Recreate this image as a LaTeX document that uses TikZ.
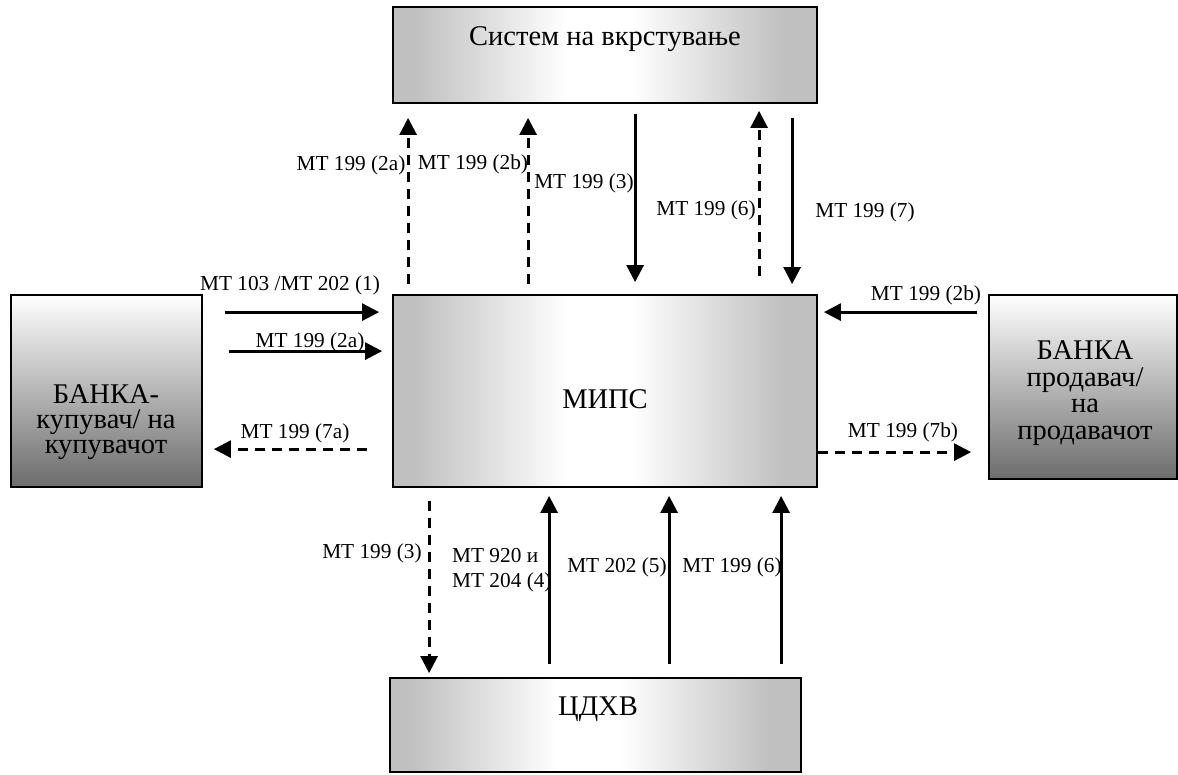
\documentclass[tikz,border=0pt]{standalone}
\usepackage{fontspec}
\setmainfont{Liberation Serif}
\usetikzlibrary{arrows.meta,calc}
\definecolor{edgegray}{RGB}{192,192,192}
\definecolor{bankdark}{RGB}{108,108,108}
\tikzset{
  box/.style={draw=black, line width=1.8pt, inner sep=0pt},
  silverbox/.style={box, path picture={
      \coordinate (pa) at (path picture bounding box.south west);
      \coordinate (pb) at (path picture bounding box.north east);
      \coordinate (p0) at ($(pa)!0.05!(pb)$);
      \coordinate (p1) at ($(pa)!0.41!(pb)$);
      \coordinate (p2) at ($(pa)!0.56!(pb)$);
      \coordinate (p3) at ($(pa)!0.92!(pb)$);
      \fill[edgegray] (pa) rectangle (pb);
      \fill[white] ([xshift=-1pt]p1 |- pa) rectangle ([xshift=1pt]p2 |- pb);
      \shade[left color=edgegray, right color=white] ([xshift=-0.5pt]p0 |- pa) rectangle (p1 |- pb);
      \shade[left color=white, right color=edgegray] (p2 |- pa) rectangle ([xshift=0.5pt]p3 |- pb);
    }},
  bankbox/.style={box, top color=white, bottom color=bankdark},
  boxtext/.style={font=\fontsize{28.5}{25}\selectfont, inner sep=0pt, align=center},
  msg/.style={font=\fontsize{21.3}{25}\selectfont, inner sep=0pt},
  arr/.style={line width=2.8pt, -{Triangle[length=17pt,width=17pt]}},
  dsh/.style={arr, dash pattern=on 10pt off 7pt},
}
\begin{document}
\begin{tikzpicture}[x=1pt,y=-1pt]
\useasboundingbox (0,0) rectangle (1178,774);
% boxes
\node[silverbox, minimum width=424pt, minimum height=96pt] (cross) at (605,55) {};
\node[silverbox, minimum width=424pt, minimum height=192pt] (mips) at (605,391) {};
\node[silverbox, minimum width=411pt, minimum height=94pt] (cdhv) at (595.5,725) {};
\node[bankbox, minimum width=191pt, minimum height=192pt] (bkup) at (106.5,391) {};
\node[bankbox, minimum width=188pt, minimum height=184pt] (bprod) at (1083,387) {};
% box texts
\node[boxtext, anchor=base] (crosst) at (605,45) {Систем на вкрстување};
\node[boxtext, anchor=base] (mipst) at (605,408) {МИПС};
\node[boxtext, anchor=base] (cdhvt) at (598,715) {ЦДХВ};
\node[boxtext, font=\fontsize{28.5}{24.8}\selectfont] (bkupt) at (106,422) {БАНКА-\\купувач/ на\\купувачот};
\node[boxtext, font=\fontsize{28.5}{26.7}\selectfont] (bprodt) at (1085,393) {БАНКА\\продавач/\\на\\продавачот};
% top arrows
\draw[dsh] ($(mips.north west)+(16,-10)$) -- ($(cross.south west)+(16,14)$);
\draw[dsh] ($(mips.north west)+(136,-10)$) -- ($(cross.south west)+(136,14)$);
\draw[arr] ($(cross.south west)+(243,10)$) -- ($(mips.north west)+(243,-12)$);
\draw[dsh] ($(mips.north west)+(367,-18)$) -- ($(cross.south west)+(367,7)$);
\draw[arr] ($(cross.south west)+(400,14)$) -- ($(mips.north west)+(400,-10)$);
\node[msg] (l2a) at (351,165) {МТ 199 (2a)};
\node[msg] (l2b) at (473,164) {МТ 199 (2b)};
\node[msg] (l3) at (584,183) {МТ 199 (3)};
\node[msg] (l6) at (706,210) {МТ 199 (6)};
\node[msg] (l7) at (865,212) {МТ 199 (7)};
% left arrows
\draw[arr] ($(bkup.north east)+(22,18)$) -- ($(mips.north west)+(-13,18)$);
\draw[arr] ($(bkup.north east)+(26,57)$) -- ($(mips.north west)+(-10,57)$);
\draw[dsh] ($(mips.north west)+(-25,155)$) -- ($(bkup.north east)+(11,155)$);
\node[msg] (l1) at (290,285) {МТ 103 /МТ 202 (1)};
\node[msg] (l2al) at (310,342) {МТ 199 (2a)};
\node[msg] (l7a) at (295,433) {МТ 199 (7a)};
% right arrows
\draw[arr] ($(bprod.north west)+(-11,18)$) -- ($(mips.north east)+(6,18)$);
\draw[dsh] ($(mips.north east)+(0,158)$) -- ($(bprod.north west)+(-17,158)$);
\node[msg] (l2br) at (926,295) {МТ 199 (2b)};
\node[msg] (l7b) at (903,432) {МТ 199 (7b)};
% bottom arrows
\draw[dsh] ($(mips.south west)+(37,13)$) -- ($(cdhv.north west)+(40,-4)$);
\draw[arr] ($(cdhv.north west)+(160,-13)$) -- ($(mips.south west)+(157,8)$);
\draw[arr] ($(cdhv.north west)+(280,-13)$) -- ($(mips.south west)+(277,8)$);
\draw[arr] ($(cdhv.north west)+(392,-13)$) -- ($(mips.south west)+(389,8)$);
\node[msg] (l3b) at (372,553) {МТ 199 (3)};
\node[msg, align=left, anchor=west] (l4) at (452,570) {МТ 920 и\\МТ 204 (4)};
\node[msg] (l5) at (617,567) {МТ 202 (5)};
\node[msg] (l6b) at (732,567) {МТ 199 (6)};
\end{tikzpicture}
\end{document}
